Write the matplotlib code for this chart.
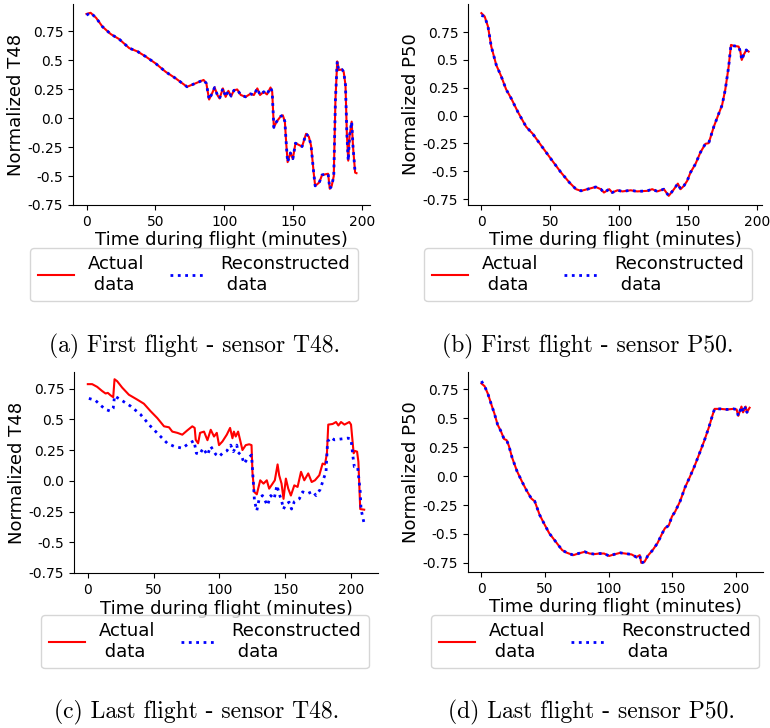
import matplotlib
matplotlib.use("Agg")
import matplotlib.pyplot as plt

# -----------------------------
# Data
# -----------------------------
# (a) first flight, sensor T48
t_first_t48 = [0, 3, 7, 11.6, 17.6, 23.7, 31, 37, 43, 50, 57.5, 64.7, 73, 79, 85, 87, 89, 91,
               93, 95, 96.6, 99, 101, 103, 105, 107, 109.4, 112, 115.5, 119, 121.5, 124, 126,
               128.7, 131, 133.6, 134.8, 136, 138, 141, 142.5, 144, 145, 146, 148, 149.8,
               151.7, 154, 156.5, 159.4, 161.4, 163, 165, 166, 169, 171, 173.4, 175.4, 176.6,
               178, 179.5, 180.7, 182, 183, 185.5, 186.7, 188, 189, 190, 191, 192.5, 193.5,
               195, 196]
actual_first_t48 = [0.90, 0.91, 0.866, 0.79, 0.726, 0.683, 0.605, 0.576, 0.532, 0.474, 0.40,
                    0.344, 0.271, 0.30, 0.33, 0.30, 0.161, 0.21, 0.265, 0.20, 0.17, 0.257,
                    0.184, 0.236, 0.19, 0.24, 0.248, 0.20, 0.184, 0.21, 0.20, 0.257, 0.20,
                    0.228, 0.205, 0.265, 0.228, -0.08, -0.03, 0.016, 0.025, -0.03, -0.22,
                    -0.38, -0.30, -0.35, -0.216, -0.23, -0.245, -0.135, -0.16, -0.236, -0.48,
                    -0.585, -0.555, -0.49, -0.485, -0.48, -0.61, -0.585, -0.50, 0.155, 0.49,
                    0.416, 0.42, 0.40, 0.286, -0.135, -0.367, -0.15, -0.03, -0.25, -0.47,
                    -0.475]
recon_first_t48 = [0.89, 0.91, 0.866, 0.79, 0.726, 0.683, 0.605, 0.576, 0.532, 0.474, 0.40,
                   0.344, 0.271, 0.30, 0.33, 0.30, 0.161, 0.21, 0.265, 0.20, 0.17, 0.257,
                   0.184, 0.236, 0.19, 0.24, 0.248, 0.20, 0.184, 0.21, 0.20, 0.257, 0.20,
                   0.228, 0.205, 0.265, 0.228, -0.08, -0.03, 0.016, 0.025, -0.03, -0.22,
                   -0.38, -0.30, -0.35, -0.216, -0.23, -0.245, -0.135, -0.16, -0.236, -0.48,
                   -0.585, -0.555, -0.49, -0.485, -0.48, -0.61, -0.585, -0.50, 0.155, 0.49,
                   0.416, 0.42, 0.40, 0.286, -0.135, -0.367, -0.15, -0.03, -0.25, -0.47,
                   -0.475]

# (b) first flight, sensor P50
t_first_p50 = [0, 2.4, 4.8, 7.2, 10.8, 14.5, 18, 21.7, 26.5, 32.5, 37.3, 43.4, 50.6, 57.8,
               63.9, 68.7, 72.3, 77, 83, 86.7, 89, 92.8, 95, 98.8, 102.4, 108.4, 113, 120.5,
               124, 127.7, 132.5, 136, 139.8, 142.6, 144.6, 147, 149.4, 151.8, 155.4, 159,
               162.6, 165, 168.7, 172.3, 174.7, 177, 179.5, 181.2, 183, 186.7, 188, 189,
               190.4, 192.3, 194]
actual_first_p50 = [0.92, 0.89, 0.80, 0.62, 0.455, 0.35, 0.235, 0.154, 0.033, -0.10, -0.163,
                    -0.268, -0.39, -0.51, -0.60, -0.66, -0.675, -0.66, -0.64, -0.66, -0.69,
                    -0.66, -0.69, -0.67, -0.68, -0.67, -0.68, -0.675, -0.66, -0.68, -0.66,
                    -0.72, -0.66, -0.61, -0.66, -0.63, -0.585, -0.51, -0.434, -0.33, -0.253,
                    -0.247, -0.10, 0.018, 0.093, 0.23, 0.44, 0.635, 0.627, 0.62, 0.575, 0.50,
                    0.545, 0.59, 0.575]
recon_first_p50 = [0.90, 0.89, 0.80, 0.62, 0.455, 0.35, 0.235, 0.154, 0.033, -0.10, -0.163,
                   -0.268, -0.39, -0.51, -0.60, -0.66, -0.675, -0.66, -0.64, -0.66, -0.69,
                   -0.66, -0.69, -0.67, -0.68, -0.67, -0.68, -0.675, -0.66, -0.68, -0.66,
                   -0.72, -0.66, -0.61, -0.66, -0.63, -0.585, -0.51, -0.434, -0.33, -0.253,
                   -0.247, -0.10, 0.018, 0.093, 0.23, 0.44, 0.635, 0.627, 0.62, 0.575, 0.50,
                   0.545, 0.59, 0.56]

# (c) last flight, sensor T48
t_last_t48 = [0, 3.3, 7.1, 10.9, 13.5, 15.2, 17.3, 19.3, 20.3, 22.3, 26.1, 31.2, 37.6, 42.6,
              47.7, 52.8, 57.9, 61.7, 64.2, 68, 71.8, 75.6, 79.4, 81.2, 82, 83.8, 85.3, 88.3,
              90.9, 93.4, 95.9, 98, 99.7, 102.3, 105.6, 108.1, 109.9, 111, 112.4, 114.2,
              115.7, 117.5, 120, 122.6, 124.4, 125.1, 126.4, 128.4, 131, 133.5, 136, 137.8,
              140.4, 142.1, 144.2, 145.4, 147.2, 148.7, 150.5, 152.3, 154.3, 156.9, 159.4,
              162, 164.5, 167.5, 170.1, 172.6, 175.9, 178.4, 180.2, 181.7, 182.7, 186, 188.6,
              190.4, 192.4, 195, 198.7, 200, 202, 203, 204.6, 205.6, 207, 210]
actual_last_t48 = [0.786, 0.786, 0.764, 0.73, 0.71, 0.715, 0.695, 0.68, 0.826, 0.81, 0.758,
                   0.70, 0.66, 0.627, 0.566, 0.51, 0.443, 0.435, 0.40, 0.39, 0.375, 0.41,
                   0.443, 0.43, 0.333, 0.305, 0.39, 0.40, 0.33, 0.415, 0.36, 0.39, 0.29, 0.32,
                   0.375, 0.43, 0.346, 0.40, 0.36, 0.40, 0.333, 0.25, 0.29, 0.297, 0.29, 0.07,
                   -0.09, -0.11, 0.004, -0.023, 0.004, -0.064, -0.023, 0.004, 0.133, 0.045,
                   -0.023, -0.147, 0.018, -0.064, -0.12, -0.037, -0.05, 0.073, 0.004, 0.06,
                   -0.01, 0.004, 0.045, 0.14, 0.133, 0.224, 0.457, 0.462, 0.478, 0.45, 0.478,
                   0.457, 0.478, 0.457, 0.224, 0.243, 0.237, 0.155, -0.23, -0.235]
t_last_t48_rec = [0.8, 5.8, 9.6, 13.5, 17.3, 19.3, 20.3, 24.9, 32.5, 40, 47.7, 55.3, 60.4,
                  65.5, 71.8, 76.9, 80.7, 82.5, 85, 87.6, 90.9, 93.4, 97.2, 99.7, 102.3,
                  105.6, 108.6, 110.6, 113.2, 114.2, 116.8, 118.8, 121.3, 124.4, 125.1, 126,
                  126.6, 128.4, 130.2, 132.7, 136.5, 139, 141.6, 143.7, 145.4, 147.2, 148.7,
                  150.5, 153, 154.8, 156.9, 160.7, 163.2, 167, 170.8, 173.4, 176.6, 179.2,
                  181, 182.2, 184.8, 187.3, 192.4, 197.5, 200, 201.3, 202.5, 205, 207, 207.6,
                  210]
recon_last_t48 = [0.67, 0.654, 0.615, 0.58, 0.566, 0.59, 0.69, 0.66, 0.607, 0.54, 0.443,
                  0.36, 0.305, 0.28, 0.265, 0.305, 0.325, 0.224, 0.215, 0.265, 0.21, 0.28,
                  0.215, 0.196, 0.224, 0.243, 0.29, 0.237, 0.29, 0.232, 0.204, 0.14, 0.18,
                  0.21, 0.10, -0.05, -0.16, -0.243, -0.147, -0.12, -0.2, -0.12, -0.147,
                  -0.037, -0.105, -0.16, -0.23, -0.19, -0.174, -0.23, -0.17, -0.147, -0.09,
                  -0.105, -0.086, -0.12, -0.07, 0.018, 0.073, 0.32, 0.352, 0.333, 0.34, 0.347,
                  0.34, 0.21, 0.114, 0.114, -0.09, -0.23, -0.35]

# (d) last flight, sensor P50
t_last_p50 = [0, 2.5, 5.1, 7.6, 10.2, 12.7, 15.2, 17.8, 19.8, 21.6, 24.1, 27.9, 31.7, 35.5,
              39.3, 41.9, 45.7, 49.5, 53.3, 58.4, 63.5, 67.3, 72.3, 76.1, 81.2, 85, 88.8,
              92.6, 96.4, 100.3, 104.1, 109.1, 112.9, 118, 121.8, 124.4, 125.6, 128.2, 130.7,
              134.5, 138.3, 142.1, 144.2, 147.2, 149.7, 152.3, 156.1, 159.9, 163.7, 167.5,
              171.3, 175.1, 178.9, 181.5, 183.2, 187.8, 192.9, 198, 200.5, 201.8, 204.3,
              205.6, 207.6, 208.6, 210.7]
actual_last_p50 = [0.80, 0.776, 0.71, 0.625, 0.54, 0.445, 0.39, 0.32, 0.31, 0.26, 0.16,
                   0.044, -0.044, -0.125, -0.195, -0.218, -0.334, -0.416, -0.494, -0.567,
                   -0.64, -0.663, -0.683, -0.669, -0.654, -0.669, -0.674, -0.669, -0.669,
                   -0.69, -0.677, -0.663, -0.669, -0.677, -0.70, -0.683, -0.75, -0.74, -0.689,
                   -0.64, -0.58, -0.494, -0.45, -0.427, -0.349, -0.305, -0.218, -0.10, -0.009,
                   0.087, 0.195, 0.305, 0.427, 0.523, 0.58, 0.58, 0.575, 0.58, 0.575, 0.52,
                   0.60, 0.55, 0.60, 0.55, 0.59]
recon_last_p50 = [0.82, 0.776, 0.71, 0.625, 0.54, 0.445, 0.39, 0.32, 0.31, 0.26, 0.16,
                  0.044, -0.044, -0.125, -0.195, -0.218, -0.334, -0.416, -0.494, -0.567,
                  -0.64, -0.663, -0.683, -0.669, -0.654, -0.669, -0.674, -0.669, -0.669,
                  -0.69, -0.677, -0.663, -0.669, -0.677, -0.70, -0.683, -0.75, -0.74, -0.689,
                  -0.64, -0.58, -0.494, -0.45, -0.427, -0.349, -0.305, -0.218, -0.10, -0.009,
                  0.087, 0.195, 0.305, 0.427, 0.523, 0.58, 0.58, 0.575, 0.58, 0.575, 0.52,
                  0.60, 0.55, 0.60, 0.55, 0.59]

ytick_values = [-0.75, -0.5, -0.25, 0.0, 0.25, 0.5, 0.75]
ytick_labels = ['-0.75', '-0.5', '-0.25', '0.0', '0.25', '0.5', '0.75']
xtick_values = [0, 50, 100, 150, 200]

captions = ['(a) First flight - sensor T48.', '(b) First flight - sensor P50.',
            '(c) Last flight - sensor T48.', '(d) Last flight - sensor P50.']
sensors = ['T48', 'P50', 'T48', 'P50']

# -----------------------------
# Figure layout (pixels of a 770x728 canvas)
# -----------------------------
W, H = 770, 728
fig = plt.figure(figsize=(W / 100, H / 100), dpi=100)

def px_axes(left, top, right, bottom):
    return fig.add_axes([left / W, 1 - bottom / H, (right - left) / W, (bottom - top) / H])

axes = [px_axes(73, 4, 370, 205), px_axes(468, 4, 762, 205),
        px_axes(74, 372, 378, 573), px_axes(468, 372, 763, 572)]

panels = [
    (t_first_t48, actual_first_t48, t_first_t48, recon_first_t48),
    (t_first_p50, actual_first_p50, t_first_p50, recon_first_p50),
    (t_last_t48, actual_last_t48, t_last_t48_rec, recon_last_t48),
    (t_last_p50, actual_last_p50, t_last_p50, recon_last_p50),
]
legend_pos = [(194, 248), (588, 248), (205, 615), (595, 615)]
caption_pos = [(195, 346), (588, 346), (197, 712), (591, 712)]

for i, ax in enumerate(axes):
    t_act, v_act, t_rec, v_rec = panels[i]
    ax.plot(t_act, v_act, color='red', lw=1.5, label='Actual\n data')
    ax.plot(t_rec, v_rec, color='blue', lw=2, linestyle=':', label='Reconstructed\n data')
    if sensors[i] == 'T48':
        ax.set_ylim(bottom=-0.75)
    ax.set_yticks(ytick_values)
    ax.set_yticklabels(ytick_labels)
    ax.set_xticks(xtick_values)
    ax.tick_params(labelsize=10)
    ax.spines['top'].set_visible(False)
    ax.spines['right'].set_visible(False)
    ax.set_xlabel('Time during flight (minutes)', fontsize=13, labelpad=2)
    ax.set_ylabel('Normalized ' + sensors[i], fontsize=13, labelpad=2)

    lx, ly = legend_pos[i]
    ax.legend(loc='upper center', bbox_to_anchor=(lx / W, 1 - ly / H),
              bbox_transform=fig.transFigure, ncol=2, fontsize=13,
              borderaxespad=0, columnspacing=1.4)

    cx, cy = caption_pos[i]
    fig.text(cx / W, 1 - cy / H, captions[i], ha='center', va='center',
             fontsize=17, family=['cmr10', 'DejaVu Serif'])

plt.savefig('out.png', dpi=100)
plt.close()
